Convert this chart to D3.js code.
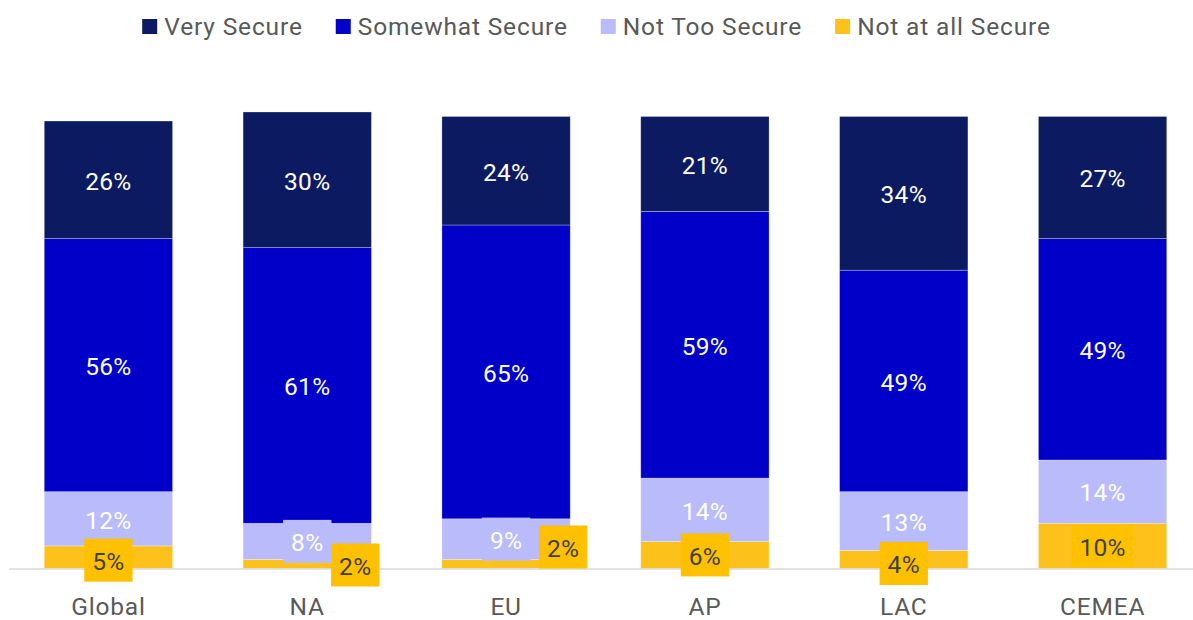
<!DOCTYPE html>
<html>
<head>
<meta charset="utf-8">
<script src="https://cdn.jsdelivr.net/npm/d3@7/dist/d3.min.js"></script>
<style>
  html, body { margin: 0; padding: 0; background: #fff; }
  svg { display: block; font-family: Roboto, "Open Sans", sans-serif; font-weight: 400; }
</style>
</head>
<body>
<svg id="chart" width="1193" height="620"></svg>
<script>
// Regions along the x axis
const categories = ["Global", "NA", "EU", "AP", "LAC", "CEMEA"];

// Series names, stacked from the bottom up
const seriesNames = ["Not at all Secure", "Not Too Secure", "Somewhat Secure", "Very Secure"];

// Share of respondents (%) for each region, one array per series
const notAtAllSecure = [5, 2, 2, 6, 4, 10];
const notTooSecure   = [12, 8, 9, 14, 13, 14];
const somewhatSecure = [56, 61, 65, 59, 49, 49];
const verySecure     = [26, 30, 24, 21, 34, 27];

// Legend order as drawn left to right
const legendOrder = ["Very Secure", "Somewhat Secure", "Not Too Secure", "Not at all Secure"];

const seriesValues = {
  "Not at all Secure": notAtAllSecure,
  "Not Too Secure": notTooSecure,
  "Somewhat Secure": somewhatSecure,
  "Very Secure": verySecure
};

const colors = {
  "Very Secure": "#0c1a62",
  "Somewhat Secure": "#0000c9",
  "Not Too Secure": "#b9bbfb",
  "Not at all Secure": "#fcc11b"
};
const labelBoxFill = {
  "Not at all Secure": "#ffc000",
  "Not Too Secure": "#b9bbfb"
};
const labelTextFill = {
  "Very Secure": "#ffffff",
  "Somewhat Secure": "#ffffff",
  "Not Too Secure": "#ffffff",
  "Not at all Secure": "#3f3f3f"
};

const W = 1193, H = 620;
const svg = d3.select("#chart");

const rows = categories.map((c, i) => {
  const r = { category: c };
  seriesNames.forEach(s => r[s] = seriesValues[s][i]);
  return r;
});

const stack = d3.stack().keys(seriesNames);
const layers = stack(rows);

const x = d3.scaleBand()
  .domain(categories)
  .range([9, 1202])
  .paddingInner(0.3546)
  .paddingOuter(0.1773);

const y = d3.scaleLinear().domain([0, 100]).range([568.5, 116.5]);

// Stacked bars
const g = svg.append("g");
g.selectAll("g.layer")
  .data(layers)
  .join("g")
  .attr("class", "layer")
  .attr("fill", d => colors[d.key])
  .selectAll("rect")
  .data(d => d)
  .join("rect")
  .attr("x", d => x(d.data.category))
  .attr("width", x.bandwidth())
  .attr("y", d => y(d[1]))
  .attr("height", d => y(d[0]) - y(d[1]))
  .attr("stroke", "#ffffff")
  .attr("stroke-opacity", 0.35)
  .attr("stroke-width", 0.8);

// Axis baseline with category labels
const xAxis = d3.axisBottom(x).tickSize(0).tickPadding(0);
const axisG = svg.append("g")
  .attr("transform", `translate(0,${y(0)})`)
  .call(xAxis);
axisG.select(".domain")
  .attr("d", `M9,0.5H${W}`)
  .attr("stroke", "#d9d9d9")
  .attr("stroke-width", 1.5);
axisG.selectAll(".tick text")
  .attr("y", 46.5)
  .attr("dy", null)
  .attr("font-size", 24.5)
  .attr("font-family", "Roboto, sans-serif")
  .attr("letter-spacing", 0.8)
  .attr("fill", "#595959");

// Nudges for labels of thin segments so they stay readable
const labelNudge = {
  "NA|Not at all Secure": [48, 1],
  "EU|Not at all Secure": [57, -17],
  "Global|Not at all Secure": [0, 3],
  "LAC|Not at all Secure": [0, 4]
};

const labels = [];
layers.forEach(layer => {
  layer.forEach(d => {
    const cat = d.data.category;
    const nudge = labelNudge[cat + "|" + layer.key] || [0, 0];
    labels.push({
      key: layer.key,
      value: d.data[layer.key],
      cx: x(cat) + x.bandwidth() / 2 + nudge[0],
      cy: (y(d[0]) + y(d[1])) / 2 + nudge[1],
      boxed: layer.key === "Not at all Secure" || (d.data[layer.key] < 10)
    });
  });
});

const lg = svg.append("g");
const item = lg.selectAll("g.lbl")
  .data(labels)
  .join("g")
  .attr("class", "lbl");

item.append("text")
  .attr("x", d => d.cx)
  .attr("y", d => d.cy)
  .attr("dy", "0.4em")
  .attr("text-anchor", "middle")
  .attr("font-size", 24.5)
  .attr("letter-spacing", 0.3)
  .attr("fill", d => labelTextFill[d.key])
  .text(d => d.value + "%");

// Background boxes behind boxed labels
item.filter(d => d.boxed).each(function (d) {
  const t = d3.select(this).select("text");
  const w = t.node().getComputedTextLength() + 16;
  const h = 43;
  d3.select(this).insert("rect", "text")
    .attr("x", d.cx - w / 2)
    .attr("y", d.cy - h / 2)
    .attr("width", w)
    .attr("height", h)
    .attr("fill", labelBoxFill[d.key] || colors[d.key]);
});

// Legend, centred above the plot
const legend = svg.append("g");
const sw = 15, gapText = 7, gapItem = 33;
let cursor = 0;
legendOrder.forEach(name => {
  const ig = legend.append("g");
  ig.append("rect")
    .attr("x", 0).attr("y", 19)
    .attr("width", sw).attr("height", 15)
    .attr("fill", colors[name]);
  const t = ig.append("text")
    .attr("x", sw + gapText).attr("y", 34.5)
    .attr("font-size", 24.5)
    .attr("letter-spacing", 0.85)
    .attr("fill", "#595959")
    .text(name);
  const w = sw + gapText + t.node().getComputedTextLength();
  ig.attr("transform", `translate(${cursor},0)`);
  cursor += w + gapItem;
});
const total = cursor - gapItem;
legend.attr("transform", `translate(${(W - total) / 2},0)`);
</script>
</body>
</html>
